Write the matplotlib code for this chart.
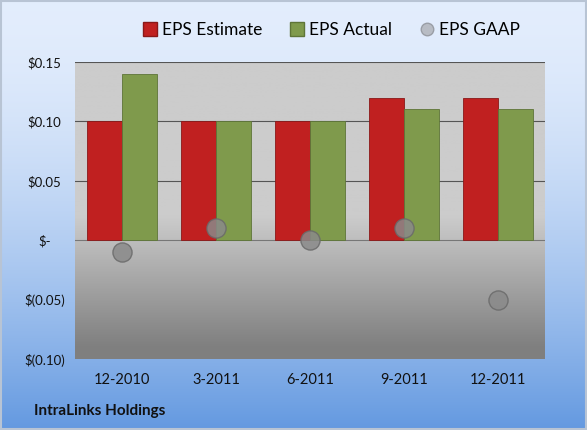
import matplotlib
matplotlib.use('Agg')
import matplotlib.pyplot as plt
import numpy as np
from matplotlib.patches import Patch
from matplotlib.lines import Line2D

plt.rcParams['font.family'] = ['Lato', 'DejaVu Sans']

quarters = ['12-2010', '3-2011', '6-2011', '9-2011', '12-2011']
eps_estimate = [0.10, 0.10, 0.10, 0.12, 0.12]
eps_actual = [0.14, 0.10, 0.10, 0.11, 0.11]
eps_gaap = [-0.01, 0.01, 0.00, 0.01, -0.05]
yticks = [-0.10, -0.05, 0.0, 0.05, 0.10, 0.15]
ylabels = ['$(0.10)', '$(0.05)', '$-', '$0.05', '$0.10', '$0.15']

fig = plt.figure(figsize=(5.87, 4.30), dpi=100)

# figure background gradient (light to blue)
bg = fig.add_axes([0, 0, 1, 1], zorder=-10)
grad = np.linspace(0, 1, 256).reshape(-1, 1)
top = np.array([0.89, 0.93, 0.99])
bot = np.array([0.39, 0.60, 0.88])
w = grad ** 1.7
img = top * (1 - w)[..., None] + bot * w[..., None]
bg.imshow(img, aspect='auto', extent=[0, 1, 0, 1], origin='upper')
bg.add_patch(plt.Rectangle((0.002, 0.002), 0.996, 0.996, fill=False,
                           edgecolor='#b8c4d4', lw=1.5))
bg.set_axis_off()

ax = fig.add_axes([0.128, 0.165, 0.800, 0.691])
x = np.arange(len(quarters))
bw = 0.37

ax.set_xlim(-0.5, len(quarters) - 0.5)
ax.set_ylim(-0.10, 0.15)

# plot area gradient
yy = np.linspace(0.15, -0.10, 300)
vals = np.where(yy > 0.02, 0.80, 0.80 - (0.02 - yy) / 0.11 * 0.30)
vals = np.clip(vals, 0.50, 0.80)
pimg = np.repeat(vals[:, None, None], 3, axis=2)
ax.imshow(pimg, aspect='auto', extent=[-0.5, len(quarters) - 0.5, -0.10, 0.15],
          origin='upper', zorder=0)

for t in [0.05, 0.10, 0.15]:
    ax.axhline(t, color='#555555', lw=0.8, zorder=1)
ax.axhline(0, color='#777777', lw=0.8, zorder=1)

ax.bar(x - bw / 2, eps_estimate, bw, color='#c02020', edgecolor='#8a1818',
       lw=0.6, zorder=2)
ax.bar(x + bw / 2, eps_actual, bw, color='#7f9a4c', edgecolor='#5e7538',
       lw=0.6, zorder=2)
ax.scatter(x, eps_gaap, s=190, color='#8a8a8a', edgecolor='#6a6a6a',
           alpha=0.85, zorder=3)

ax.set_xticks(x)
ax.set_xticklabels(quarters, fontsize=10.5, color='#111111')
ax.set_yticks(yticks)
ax.set_yticklabels(ylabels, fontsize=9.5, color='#111111')
ax.tick_params(length=0, pad=10)
ax.tick_params(axis='y', pad=22)
for lab in ax.get_yticklabels():
    lab.set_horizontalalignment('center')
for s in ax.spines.values():
    s.set_visible(False)

handles = [Patch(facecolor='#c02020', edgecolor='#8a1818'),
           Patch(facecolor='#7f9a4c', edgecolor='#5e7538'),
           Line2D([], [], marker='o', ls='', markersize=9,
                  markerfacecolor='#b8bcc4', markeredgecolor='#9a9ea6')]
fig.legend(handles, ['EPS Estimate', 'EPS Actual', 'EPS GAAP'],
           loc='center', bbox_to_anchor=(0.565, 0.93), ncol=3, frameon=False,
           fontsize=12.5, handlelength=0.8, handleheight=0.8,
           handletextpad=0.3, columnspacing=1.6)

fig.text(0.058, 0.035, 'IntraLinks Holdings', fontsize=11, fontweight='bold',
         color='#111111')

fig.savefig('out.png', dpi=100)
